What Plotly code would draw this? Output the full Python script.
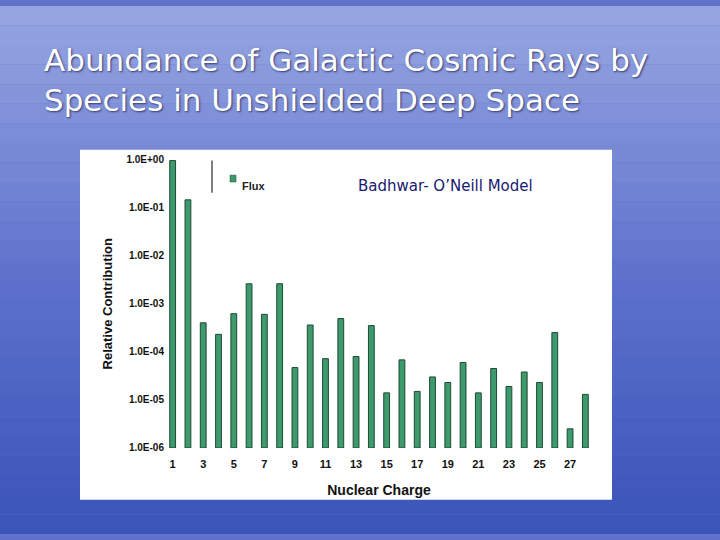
import plotly.graph_objects as go

charges = list(range(1, 29))
flux = [0.95, 0.145, 4.0e-4, 2.3e-4, 6.2e-4, 2.6e-3, 6.0e-4, 2.6e-3, 4.6e-5, 3.6e-4,
        7.1e-5, 4.9e-4, 7.9e-5, 3.5e-4, 1.3e-5, 6.7e-5, 1.4e-5, 2.9e-5, 2.2e-5, 5.9e-5,
        1.3e-5, 4.4e-5, 1.8e-5, 3.7e-5, 2.2e-5, 2.5e-4, 1.5e-6, 1.2e-5]
ytick_vals = [1, 1e-1, 1e-2, 1e-3, 1e-4, 1e-5, 1e-6]
ytick_text = ["1.0E+00", "1.0E-01", "1.0E-02", "1.0E-03", "1.0E-04", "1.0E-05", "1.0E-06"]
xtick_vals = list(range(1, 28, 2))

W, H = 720, 540
def px(x): return x / W
def py(y): return 1 - y / H

fig = go.Figure(go.Bar(x=charges, y=flux, base=1e-6, width=0.38,
                       marker=dict(color="#3d9a6c", line=dict(color="#1e4a34", width=1)),
                       name="Flux", showlegend=False))

shapes = []
n = 27
top = (150, 165, 225); mid = (95, 115, 205); bot = (60, 85, 185)
for i in range(n):
    t = i / (n - 1)
    if t < 0.5:
        a, b, f = top, mid, t / 0.5
    else:
        a, b, f = mid, bot, (t - 0.5) / 0.5
    c = tuple(int(a[k] + (b[k] - a[k]) * f) for k in range(3))
    shapes.append(dict(type="rect", xref="paper", yref="paper", x0=0, x1=1,
                       y0=1 - (i + 1) / n, y1=1 - i / n, line_width=0,
                       fillcolor="rgb(%d,%d,%d)" % c, layer="below"))
shapes.append(dict(type="rect", xref="paper", yref="paper", x0=px(80), x1=px(612),
                   y0=py(505), y1=py(147), fillcolor="white", line_width=0, layer="below"))
shapes.append(dict(type="line", xref="paper", yref="paper", x0=px(212), x1=px(212),
                   y0=py(191), y1=py(158), line=dict(color="black", width=1)))
shapes.append(dict(type="rect", xref="paper", yref="paper", x0=px(230), x1=px(236),
                   y0=py(180), y1=py(173), fillcolor="#3d9a6c", line=dict(color="#1e4a34", width=0.5)))

ann = [
    dict(text="Abundance of Galactic Cosmic Rays by<br>Species in Unshielded Deep Space",
         x=px(42), y=py(35), xref="paper", yref="paper", xanchor="left", yanchor="top",
         showarrow=False, align="left",
         font=dict(family="DejaVu Sans", size=31, color="white", shadow="1px 1px 2px #303a70")),
    dict(text="Badhwar- O’Neill Model", x=px(445), y=py(184), xref="paper", yref="paper",
         showarrow=False, font=dict(family="DejaVu Sans", size=15, color="#1a1a70")),
    dict(text="<b>Flux</b>", x=px(240), y=py(176), xref="paper", yref="paper", xanchor="left",
         showarrow=False, font=dict(family="Liberation Sans", size=11, color="#222")),
]

fig.update_layout(
    width=W, height=H, margin=dict(l=0, r=0, t=0, b=0),
    paper_bgcolor="rgb(95,115,205)", plot_bgcolor="rgba(0,0,0,0)",
    shapes=shapes, annotations=ann,
    xaxis=dict(domain=[px(165), px(593)], range=[0.5, 28.5], tickvals=xtick_vals,
               ticktext=["<b>%d</b>" % v for v in xtick_vals], showgrid=False, zeroline=False,
               showline=False, ticks="outside", ticklen=6, tickcolor="rgba(0,0,0,0)",
               tickfont=dict(family="Liberation Sans", size=11, color="#111"),
               title=dict(text="<b>Nuclear Charge</b>", font=dict(family="Liberation Sans", size=14, color="#111"),
                          standoff=16)),
    yaxis=dict(domain=[py(452), py(157)], type="log", range=[-6, 0], tickvals=ytick_vals,
               ticktext=["<b>%s</b>" % t for t in ytick_text], showgrid=False, zeroline=False,
               showline=False, ticks="", tickfont=dict(family="Liberation Sans", size=10, color="#111"),
               title=dict(text="<b>Relative Contribution</b>", font=dict(family="Liberation Sans", size=13, color="#111"),
                          standoff=10)),
)
fig.write_html("out.html", config={"displayModeBar": False},
               post_script="document.body.style.margin='0';document.body.style.overflow='hidden';")
